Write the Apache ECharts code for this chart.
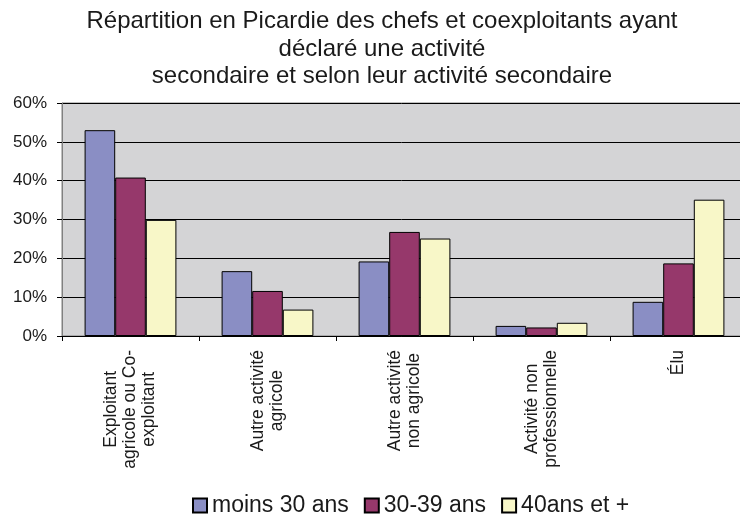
<!DOCTYPE html>
<html>
<head>
  <meta charset="utf-8">
  <title>Répartition en Picardie</title>
  <script src="https://cdn.jsdelivr.net/npm/echarts@6/dist/echarts.min.js"></script>
  <style>
    html, body { margin: 0; padding: 0; background: #fff; }
    #main { width: 740px; height: 518px; }
  </style>
</head>
<body>
<div id="main"></div>
<script>
  // catégories (axe horizontal)
  var categories = [
    'Exploitant\nagricole ou Co-\nexploitant',
    'Autre activité\nagricole',
    'Autre activité\nnon agricole',
    'Activité non\nprofessionnelle',
    'Élu'
  ];
  // valeurs en %
  var moins30 = [53.0, 16.7, 19.2, 2.6, 8.8];
  var de30a39 = [40.8, 11.6, 26.8, 2.2, 18.7];
  var plus40 = [29.9, 6.8, 25.1, 3.4, 35.1];
  var seriesNames = ['moins 30 ans', '30-39 ans', '40ans et +'];
  var colors = ['#8a8ec4', '#96386b', '#f8f7c8'];

  var font = 'Liberation Sans, Arial, sans-serif';
  var myChart = echarts.init(document.getElementById('main'));

  function bar(name, data, color) {
    return {
      name: name,
      type: 'bar',
      data: data,
      barGap: '0%',
      barCategoryGap: '33%',
      itemStyle: { color: color, borderColor: '#000', borderWidth: 1 }
    };
  }

  myChart.setOption({
    animation: false,
    textStyle: { fontFamily: font },
    title: {
      text: 'Répartition en Picardie des chefs et coexploitants ayant\ndéclaré une activité\nsecondaire et selon leur activité secondaire',
      left: 382,
      top: 8,
      padding: 0,
      textAlign: 'center',
      textStyle: { fontSize: 24, fontWeight: 'normal', color: '#1a1a1a', lineHeight: 27.5, fontFamily: font }
    },
    legend: {
      left: 192,
      top: 494,
      padding: 0,
      itemWidth: 14,
      itemHeight: 14,
      itemGap: 15,
      icon: 'rect',
      textStyle: { fontSize: 23, color: '#1a1a1a', fontFamily: font },
      data: seriesNames
    },
    grid: {
      left: 62,
      top: 103,
      width: 685,
      bottom: 182,
      outerBoundsMode: 'none',
      show: true,
      backgroundColor: '#d4d4d6',
      borderColor: '#808080',
      borderWidth: 1
    },
    xAxis: {
      type: 'category',
      data: categories,
      axisLine: { lineStyle: { color: '#000', width: 1 } },
      axisTick: { show: true, length: 5, lineStyle: { color: '#000' } },
      axisLabel: {
        rotate: 90,
        margin: 14,
        interval: 0,
        formatter: function (v) { return '{c|' + v + '}'; },
        rich: {
          c: { align: 'center', fontSize: 17.5, lineHeight: 19, color: '#1a1a1a', fontFamily: font }
        }
      }
    },
    yAxis: {
      type: 'value',
      min: 0,
      max: 60,
      interval: 10,
      axisLine: { show: true, lineStyle: { color: '#808080' } },
      axisTick: { show: true, length: 5, lineStyle: { color: '#000' } },
      axisLabel: { formatter: '{value}%', fontSize: 17, margin: 15, color: '#1a1a1a', fontFamily: font },
      splitLine: { show: true, lineStyle: { color: '#000', width: 1 } }
    },
    series: [
      bar(seriesNames[0], moins30, colors[0]),
      bar(seriesNames[1], de30a39, colors[1]),
      bar(seriesNames[2], plus40, colors[2])
    ]
  });
</script>
</body>
</html>
